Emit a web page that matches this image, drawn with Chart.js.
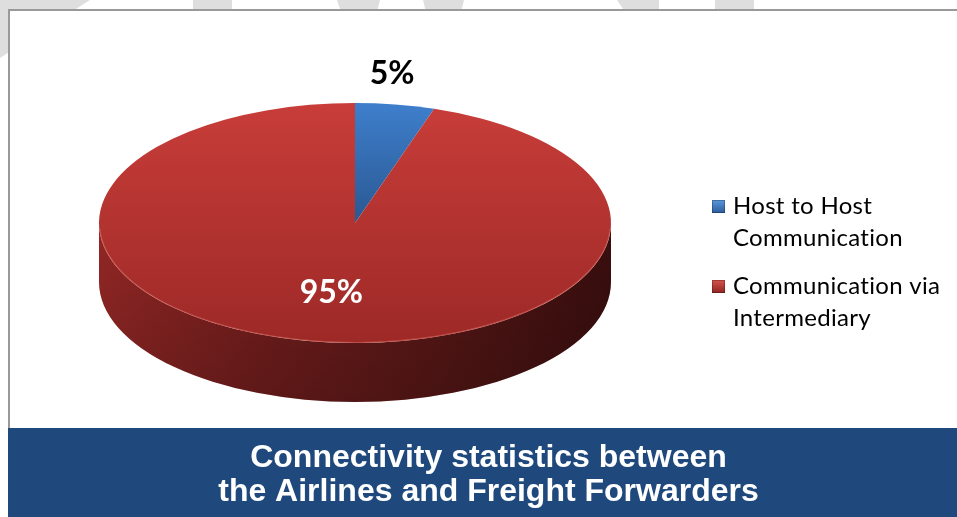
<!DOCTYPE html>
<html>
<head>
<meta charset="utf-8">
<script src="https://cdn.jsdelivr.net/npm/chart.js@4.4.1/dist/chart.umd.min.js"></script>
<style>
  html, body { margin: 0; padding: 0; background: #fff; }
  #wrap { position: relative; width: 957px; height: 517px; }
</style>
</head>
<body>
<div id="wrap"><canvas id="myChart"></canvas></div>
<script>
var categories = ['Host to Host Communication', 'Communication via Intermediary'];
var legendLines = [['Host to Host', 'Communication'], ['Communication via', 'Intermediary']];
var shares = [5, 95];
var titleLines = ['Connectivity statistics between', 'the Airlines and Freight Forwarders'];

// top face colours (light, dark) per slice
var faceColors = [['#3e7fcc', '#2a5892'], ['#c83d39', '#9d2927']];
var markerColors = [['#5b97dc', '#2b5c9c'], ['#d9534d', '#8e2422']];

function faceGradient(context) {
  var chart = context.chart;
  var area = chart.chartArea;
  var c = faceColors[context.dataIndex];
  if (!area) return c[1];
  var r = Math.min(area.right - area.left, area.bottom - area.top) / 2;
  var cy = (area.top + area.bottom) / 2;
  var g = chart.ctx.createLinearGradient(0, cy - r, 0, cy + r);
  if (context.dataIndex === 0) {
    g.addColorStop(0, c[0]);
    g.addColorStop(0.5, c[1]);
    g.addColorStop(1, c[1]);
  } else {
    g.addColorStop(0, c[0]);
    g.addColorStop(1, c[1]);
  }
  return g;
}

var pie3d = {
  id: 'pie3d',
  beforeDraw: function (chart) {
    var ctx = chart.ctx;
    ctx.save();
    // faint watermark pieces above the frame
    ctx.fillStyle = '#dedede';
    var shapes = [
      [[0, 0], [90, 0], [0, 58]],
      [[193, 0], [232, 0], [232, 12], [193, 12]],
      [[337, 0], [380, 0], [377, 12], [341, 12]],
      [[423, 0], [464, 0], [461, 12], [426, 12]],
      [[617, 0], [659, 0], [659, 12], [625, 12]],
      [[715, 0], [754, 0], [754, 12], [715, 12]]
    ];
    shapes.forEach(function (s) {
      ctx.beginPath();
      ctx.moveTo(s[0][0], s[0][1]);
      for (var i = 1; i < s.length; i++) ctx.lineTo(s[i][0], s[i][1]);
      ctx.closePath();
      ctx.fill();
    });
    // chart frame
    ctx.fillStyle = '#fff';
    ctx.fillRect(8, 9, 949, 419);
    ctx.fillStyle = '#999';
    ctx.fillRect(8, 9, 949, 2);
    ctx.fillRect(8, 9, 2, 419);
    // title band
    ctx.fillStyle = '#1f497d';
    ctx.fillRect(8, 428, 949, 89);
    ctx.restore();
  },
  beforeDatasetsDraw: function (chart, args, opts) {
    var ctx = chart.ctx;
    var arcs = chart.getDatasetMeta(0).data;
    var cx = opts.cx, cy = opts.cy, rx = opts.rx, ry = opts.ry, d = opts.depth;
    // side walls of the slices facing the viewer
    arcs.forEach(function (arc) {
      var a0 = arc.startAngle, a1 = arc.endAngle;
      [[0, Math.PI], [2 * Math.PI, 3 * Math.PI], [-2 * Math.PI, -Math.PI]].forEach(function (w) {
        var s = Math.max(a0, w[0]), e = Math.min(a1, w[1]);
        if (e <= s) return;
        ctx.save();
        ctx.beginPath();
        ctx.ellipse(cx, cy, rx, ry, 0, s, e, false);
        ctx.ellipse(cx, cy + d, rx, ry, 0, e, s, true);
        ctx.closePath();
        var g = ctx.createLinearGradient(cx - rx, 0, cx + rx, 0);
        g.addColorStop(0, '#922725');
        g.addColorStop(0.3, '#731e1d');
        g.addColorStop(0.65, '#571716');
        g.addColorStop(1, '#3a0e0e');
        ctx.fillStyle = g;
        ctx.fill();
        var v = ctx.createLinearGradient(0, cy, 0, cy + ry + d);
        v.addColorStop(0, 'rgba(0,0,0,0)');
        v.addColorStop(1, 'rgba(0,0,0,0.18)');
        ctx.fillStyle = v;
        ctx.fill();
        ctx.restore();
      });
    });
    // squash the library's circle into the top ellipse
    var a = arcs[0];
    ctx.save();
    ctx.translate(cx, cy);
    ctx.scale(rx / a.outerRadius, ry / a.outerRadius);
    ctx.translate(-a.x, -a.y);
  },
  afterDatasetsDraw: function (chart, args, opts) {
    var ctx = chart.ctx;
    ctx.restore();
    var cx = opts.cx, cy = opts.cy, rx = opts.rx, ry = opts.ry;
    // light rim on the front edge of the top face
    ctx.save();
    ctx.beginPath();
    ctx.ellipse(cx, cy, rx - 0.5, ry - 0.5, 0, 0.05, Math.PI - 0.05);
    ctx.strokeStyle = 'rgba(230,120,110,0.45)';
    ctx.lineWidth = 1.2;
    ctx.stroke();
    ctx.restore();

    // data labels
    var arcs = chart.getDatasetMeta(0).data;
    var total = shares.reduce(function (s, v) { return s + v; }, 0);
    ctx.save();
    ctx.font = 'bold 32px Lato';
    ctx.textAlign = 'center';
    ctx.textBaseline = 'middle';
    arcs.forEach(function (arc, i) {
      var mid = (arc.startAngle + arc.endAngle) / 2;
      var txt = Math.round(shares[i] / total * 100) + '%';
      if (shares[i] / total < 0.1) {
        var px = cx + rx * Math.cos(mid), py = cy + ry * Math.sin(mid);
        ctx.fillStyle = '#000';
        ctx.fillText(txt, px - 3, py - 31);
      } else {
        ctx.fillStyle = '#fff';
        ctx.fillText(txt, cx + 0.59 * rx * Math.cos(mid), cy + 0.59 * ry * Math.sin(mid));
      }
    });
    ctx.restore();

    // legend
    ctx.save();
    ctx.font = '24px Lato';
    ctx.letterSpacing = '0.3px';
    ctx.textBaseline = 'middle';
    ctx.textAlign = 'left';
    var y = opts.legendY;
    legendLines.forEach(function (lines, i) {
      var mx = opts.legendX, my = y - 6;
      var g = ctx.createLinearGradient(0, my, 0, my + 13);
      g.addColorStop(0, markerColors[i][0]);
      g.addColorStop(1, markerColors[i][1]);
      ctx.fillStyle = g;
      ctx.fillRect(mx, my, 13, 13);
      ctx.strokeStyle = 'rgba(0,0,0,0.25)';
      ctx.lineWidth = 1;
      ctx.strokeRect(mx + 0.5, my + 0.5, 12, 12);
      ctx.fillStyle = '#000';
      lines.forEach(function (t, j) {
        ctx.fillText(t, mx + 21, y + j * 32);
      });
      y += lines.length * 32 + 16;
    });
    ctx.restore();
  }
};

var ctx = document.getElementById('myChart').getContext('2d');
var myChart = new Chart(ctx, {
  type: 'pie',
  data: {
    labels: categories,
    datasets: [{
      data: shares,
      backgroundColor: faceGradient,
      borderWidth: 0,
      clip: false
    }]
  },
  options: {
    responsive: true,
    maintainAspectRatio: false,
    animation: false,
    events: [],
    layout: { padding: { left: 20 } },
    plugins: {
      legend: { display: false },
      tooltip: { enabled: false },
      title: {
        display: true,
        position: 'bottom',
        text: titleLines,
        color: '#ffffff',
        font: { family: "'Liberation Sans', Arial", size: 32, weight: 'bold', lineHeight: '34px' },
        padding: { top: 13, bottom: 8 }
      },
      pie3d: { cx: 355, cy: 223, rx: 256, ry: 120, depth: 59, legendX: 712, legendY: 206 }
    }
  },
  plugins: [pie3d]
});
</script>
</body>
</html>
